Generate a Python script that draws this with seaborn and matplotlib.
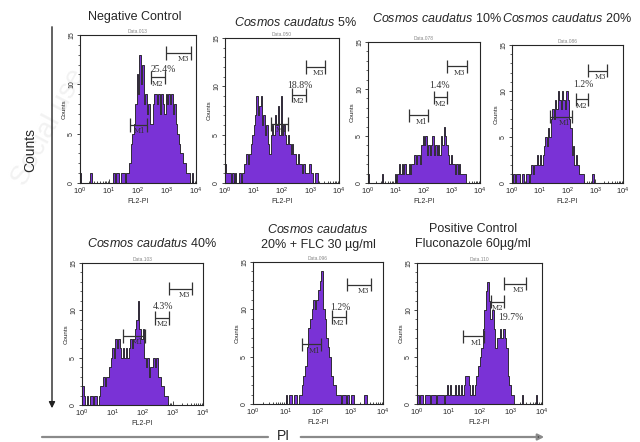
import numpy as np
import matplotlib
matplotlib.use("Agg")
import matplotlib.pyplot as plt
from matplotlib.ticker import LogLocator, NullFormatter
import seaborn as sns

# FL2-PI channels: 80 bins over 4 log decades (20 per decade)
n_bins = 80
channel_pos = 10 ** (np.arange(n_bins) * 0.05 + 0.025)

# counts per channel (one row = one decade)
neg_control = [1, 0, 0, 0, 0, 0, 0, 1, 0, 0, 0, 0, 0, 0, 0, 0, 0, 0, 0, 0,
               0, 0, 0, 1, 0, 1, 1, 0, 1, 1, 1, 0, 1, 1, 2, 4, 5, 6, 8, 11,
               9, 13, 10, 12, 8, 9, 7, 8, 6, 6, 8, 9, 9, 8, 9, 7, 9, 8, 7, 9,
               8, 9, 8, 9, 7, 8, 6, 5, 4, 3, 3, 2, 2, 1, 1, 1, 0, 1, 0, 0]
cc_5 = [2, 1, 1, 1, 0, 1, 0, 1, 0, 0, 1, 0, 1, 2, 2, 3, 2, 3, 4, 5,
        6, 7, 9, 7, 8, 9, 6, 7, 5, 6, 4, 3, 5, 6, 5, 7, 6, 8, 5, 9,
        5, 6, 5, 4, 5, 4, 3, 4, 3, 3, 2, 3, 2, 2, 1, 2, 1, 1, 1, 2,
        1, 1, 0, 1, 1, 0, 0, 0, 0, 0, 0, 0, 0, 0, 0, 0, 0, 0, 0, 0]
cc_10 = [1, 0, 0, 0, 0, 0, 0, 0, 0, 0, 1, 0, 0, 0, 0, 0, 0, 0, 0, 1,
         0, 1, 2, 1, 2, 1, 2, 1, 1, 2, 1, 2, 2, 3, 2, 3, 3, 2, 4, 5,
         4, 5, 3, 4, 3, 4, 5, 3, 4, 3, 4, 3, 5, 4, 6, 5, 4, 3, 2, 3,
         2, 2, 1, 2, 1, 2, 1, 1, 1, 1, 0, 0, 0, 0, 0, 0, 0, 0, 0, 0]
cc_20 = [0, 1, 0, 1, 1, 1, 0, 1, 1, 0, 1, 1, 0, 1, 2, 1, 2, 2, 3, 2,
         3, 2, 3, 4, 5, 4, 6, 5, 7, 8, 7, 9, 8, 10, 9, 8, 10, 9, 8, 10,
         9, 7, 6, 3, 4, 2, 3, 2, 1, 1, 1, 1, 0, 0, 0, 0, 0, 0, 1, 0,
         0, 0, 0, 0, 0, 0, 0, 0, 0, 0, 0, 0, 0, 0, 0, 0, 0, 0, 0, 0]
cc_40 = [2, 1, 0, 1, 0, 1, 1, 0, 1, 1, 0, 1, 2, 2, 3, 2, 3, 3, 4, 5,
         6, 5, 7, 6, 7, 6, 5, 6, 5, 6, 5, 6, 7, 6, 7, 8, 9, 11, 8, 7,
         8, 5, 4, 5, 3, 4, 4, 5, 4, 5, 3, 3, 2, 2, 1, 1, 1, 0, 0, 0,
         0, 0, 0, 0, 0, 0, 0, 0, 0, 0, 0, 0, 0, 0, 0, 0, 0, 0, 0, 0]
cc_20_flc = [0, 0, 0, 0, 0, 0, 0, 0, 0, 0, 0, 0, 0, 0, 0, 0, 0, 0, 0, 0,
             1, 0, 1, 1, 0, 1, 1, 0, 1, 1, 2, 3, 4, 6, 8, 9, 10, 11, 10, 11,
             12, 13, 14, 10, 9, 7, 6, 5, 3, 2, 2, 1, 1, 1, 0, 1, 1, 0, 1, 0,
             1, 1, 0, 0, 0, 0, 0, 0, 1, 1, 0, 0, 0, 0, 0, 0, 0, 0, 0, 0]
pos_control = [1, 0, 1, 1, 0, 1, 1, 1, 0, 1, 1, 1, 0, 1, 1, 1, 1, 0, 1, 2,
               1, 2, 1, 1, 2, 1, 2, 1, 2, 1, 2, 3, 3, 2, 1, 2, 1, 2, 3, 4,
               5, 6, 8, 10, 12, 13, 11, 9, 10, 8, 6, 7, 7, 8, 7, 8, 7, 6, 3, 2,
               1, 1, 0, 0, 0, 0, 0, 1, 0, 0, 0, 0, 0, 0, 0, 0, 1, 0, 0, 0]

# M1/M2/M3 gates: (log10 low, log10 high, count level)
gates_neg = [(1.72, 2.30, 5.9), (2.45, 2.93, 10.7), (2.95, 3.82, 13.2)]
gates_5 = [(1.63, 2.22, 6.1), (2.36, 2.83, 9.1), (2.83, 3.52, 12.0)]
gates_10 = [(1.46, 2.15, 7.2), (2.35, 2.83, 9.1), (2.83, 3.52, 12.4)]
gates_20 = [(1.37, 2.15, 7.2), (2.30, 2.75, 9.1), (2.75, 3.44, 12.2)]
gates_40 = [(1.36, 2.07, 7.3), (2.42, 2.88, 9.2), (2.88, 3.62, 12.3)]
gates_flc = [(1.50, 2.10, 6.3), (2.43, 2.86, 9.2), (2.88, 3.62, 12.6)]
gates_pos = [(1.46, 2.14, 7.2), (2.36, 2.79, 10.9), (2.79, 3.48, 12.8)]

pct_labels = ["25.4%", "18.8%", "1.4%", "1.2%", "4.3%", "1.2%", "19.7%"]
data_names = ["Data.013", "Data.050", "Data.078", "Data.086", "Data.103", "Data.096", "Data.110"]

sns.set_style("ticks")
plt.rcParams["font.family"] = ["Liberation Sans", "DejaVu Sans"]
plt.rcParams["mathtext.fontset"] = "custom"
plt.rcParams["mathtext.rm"] = "Liberation Sans"
plt.rcParams["mathtext.it"] = "Liberation Sans:italic"

W, H = 640, 442
fig = plt.figure(figsize=(6.4, 4.42), dpi=100)

# background layer for the big arrows / labels (pixel coords)
bg = fig.add_axes([0, 0, 1, 1], zorder=-1)
bg.set_xlim(0, W)
bg.set_ylim(H, 0)
bg.axis("off")
bg.text(30, 190, "Social use", rotation=62, rotation_mode="anchor", fontsize=20,
        color="#f2f2f2", ha="left", va="bottom")
bg.annotate("", xy=(52, 411), xytext=(52, 24),
            arrowprops=dict(arrowstyle="-|>", color="#222222", lw=1.0, mutation_scale=9))
bg.text(30, 150, "Counts", rotation=90, ha="center", va="center", fontsize=10)
bg.plot([42, 268], [437, 437], color="#8a8a8a", lw=1.6)
bg.annotate("", xy=(547, 437), xytext=(298, 437),
            arrowprops=dict(arrowstyle="-|>", color="#8a8a8a", lw=1.6, mutation_scale=9,
                            fc="black", ec="#8a8a8a"))
bg.text(283, 436, "PI", ha="center", va="center", fontsize=10)

# panel boxes in pixels: x0, x1, y0, y1 (top-left origin)
boxes = [(80, 196, 35, 183), (225, 339, 38, 183), (368, 480, 42, 183), (512, 623, 45, 183),
         (82, 203, 263, 405), (253, 383, 262, 404), (417, 542, 263, 404)]
pct_pos = [(2.88, 11.5), (2.62, 10.1), (2.57, 10.4), (2.57, 10.7),
           (2.68, 10.4), (2.68, 10.2), (3.0, 9.2)]
titles = [
    [("Negative Control", 135, 17)],
    [(r"$\mathit{Cosmos\ caudatus}$ 5%", 296, 23)],
    [(r"$\mathit{Cosmos\ caudatus}$ 10%", 437, 19)],
    [(r"$\mathit{Cosmos\ caudatus}$ 20%", 567, 19)],
    [(r"$\mathit{Cosmos\ caudatus}$ 40%", 152, 243)],
    [(r"$\mathit{Cosmos\ caudatus}$", 318, 229), ("20% + FLC 30 µg/ml", 318, 245)],
    [("Positive Control", 473, 229), ("Fluconazole 60µg/ml", 473, 244)],
]
series = [neg_control, cc_5, cc_10, cc_20, cc_40, cc_20_flc, pos_control]
gates = [gates_neg, gates_5, gates_10, gates_20, gates_40, gates_flc, gates_pos]

purple = "#7A32D6"
for i, counts in enumerate(series):
    x0, x1, y0, y1 = boxes[i]
    ax = fig.add_axes([x0 / W, 1 - y1 / H, (x1 - x0) / W, (y1 - y0) / H])
    sns.histplot(x=channel_pos, weights=counts, bins=n_bins, binrange=(0, 4),
                 log_scale=True, element="step", fill=True, color=purple,
                 edgecolor="#1a1a1a", linewidth=0.6, alpha=1, ax=ax)
    ax.set_xlim(1, 1e4)
    ax.set_ylim(0, 15)
    ax.set_xticks([1, 10, 100, 1000, 10000])
    ax.xaxis.set_minor_locator(LogLocator(base=10, subs=np.arange(2, 10), numticks=20))
    ax.xaxis.set_minor_formatter(NullFormatter())
    ax.set_yticks([0, 5, 10, 15])
    ax.set_yticks(range(16), minor=True)
    ax.tick_params(axis="y", labelsize=5, labelrotation=90, length=2.5, width=0.6, pad=1)
    ax.tick_params(axis="y", which="minor", length=1.2, width=0.5)
    ax.tick_params(axis="x", which="both", direction="in", labelsize=5.5, width=0.6, pad=2)
    ax.tick_params(axis="x", which="major", length=3)
    ax.tick_params(axis="x", which="minor", length=1.8)
    for lab in ax.get_yticklabels():
        lab.set_va("center")
    ax.set_ylabel("Counts", fontsize=4.5, labelpad=1)
    ax.set_xlabel("FL2-PI", fontsize=5, labelpad=1)
    ax.set_title(data_names[i], fontsize=3.5, color="#888888", pad=1.5)
    for s in ax.spines.values():
        s.set_linewidth(0.8)
        s.set_visible(True)

    for k, (lo, hi, lev) in enumerate(gates[i]):
        ax.hlines(lev, 10 ** lo, 10 ** hi, color="#333333", lw=0.9, zorder=5)
        ax.vlines([10 ** lo, 10 ** hi], lev - 0.7, lev + 0.7, color="#333333", lw=0.9, zorder=5)
        ax.text(10 ** (hi - 0.04), lev - 0.25, f"M{k + 1}", ha="right", va="top",
                fontsize=5, color="#333333", family="DejaVu Serif", zorder=6)

    px, py = pct_pos[i]
    ax.text(10 ** px, py, pct_labels[i], ha="center", va="center", fontsize=7,
            color="#333333", family="Liberation Serif", zorder=6)

    for txt, tx, ty in titles[i]:
        fig.text(tx / W, 1 - ty / H, txt, ha="center", va="center", fontsize=9)

fig.savefig("out.png", dpi=100)
